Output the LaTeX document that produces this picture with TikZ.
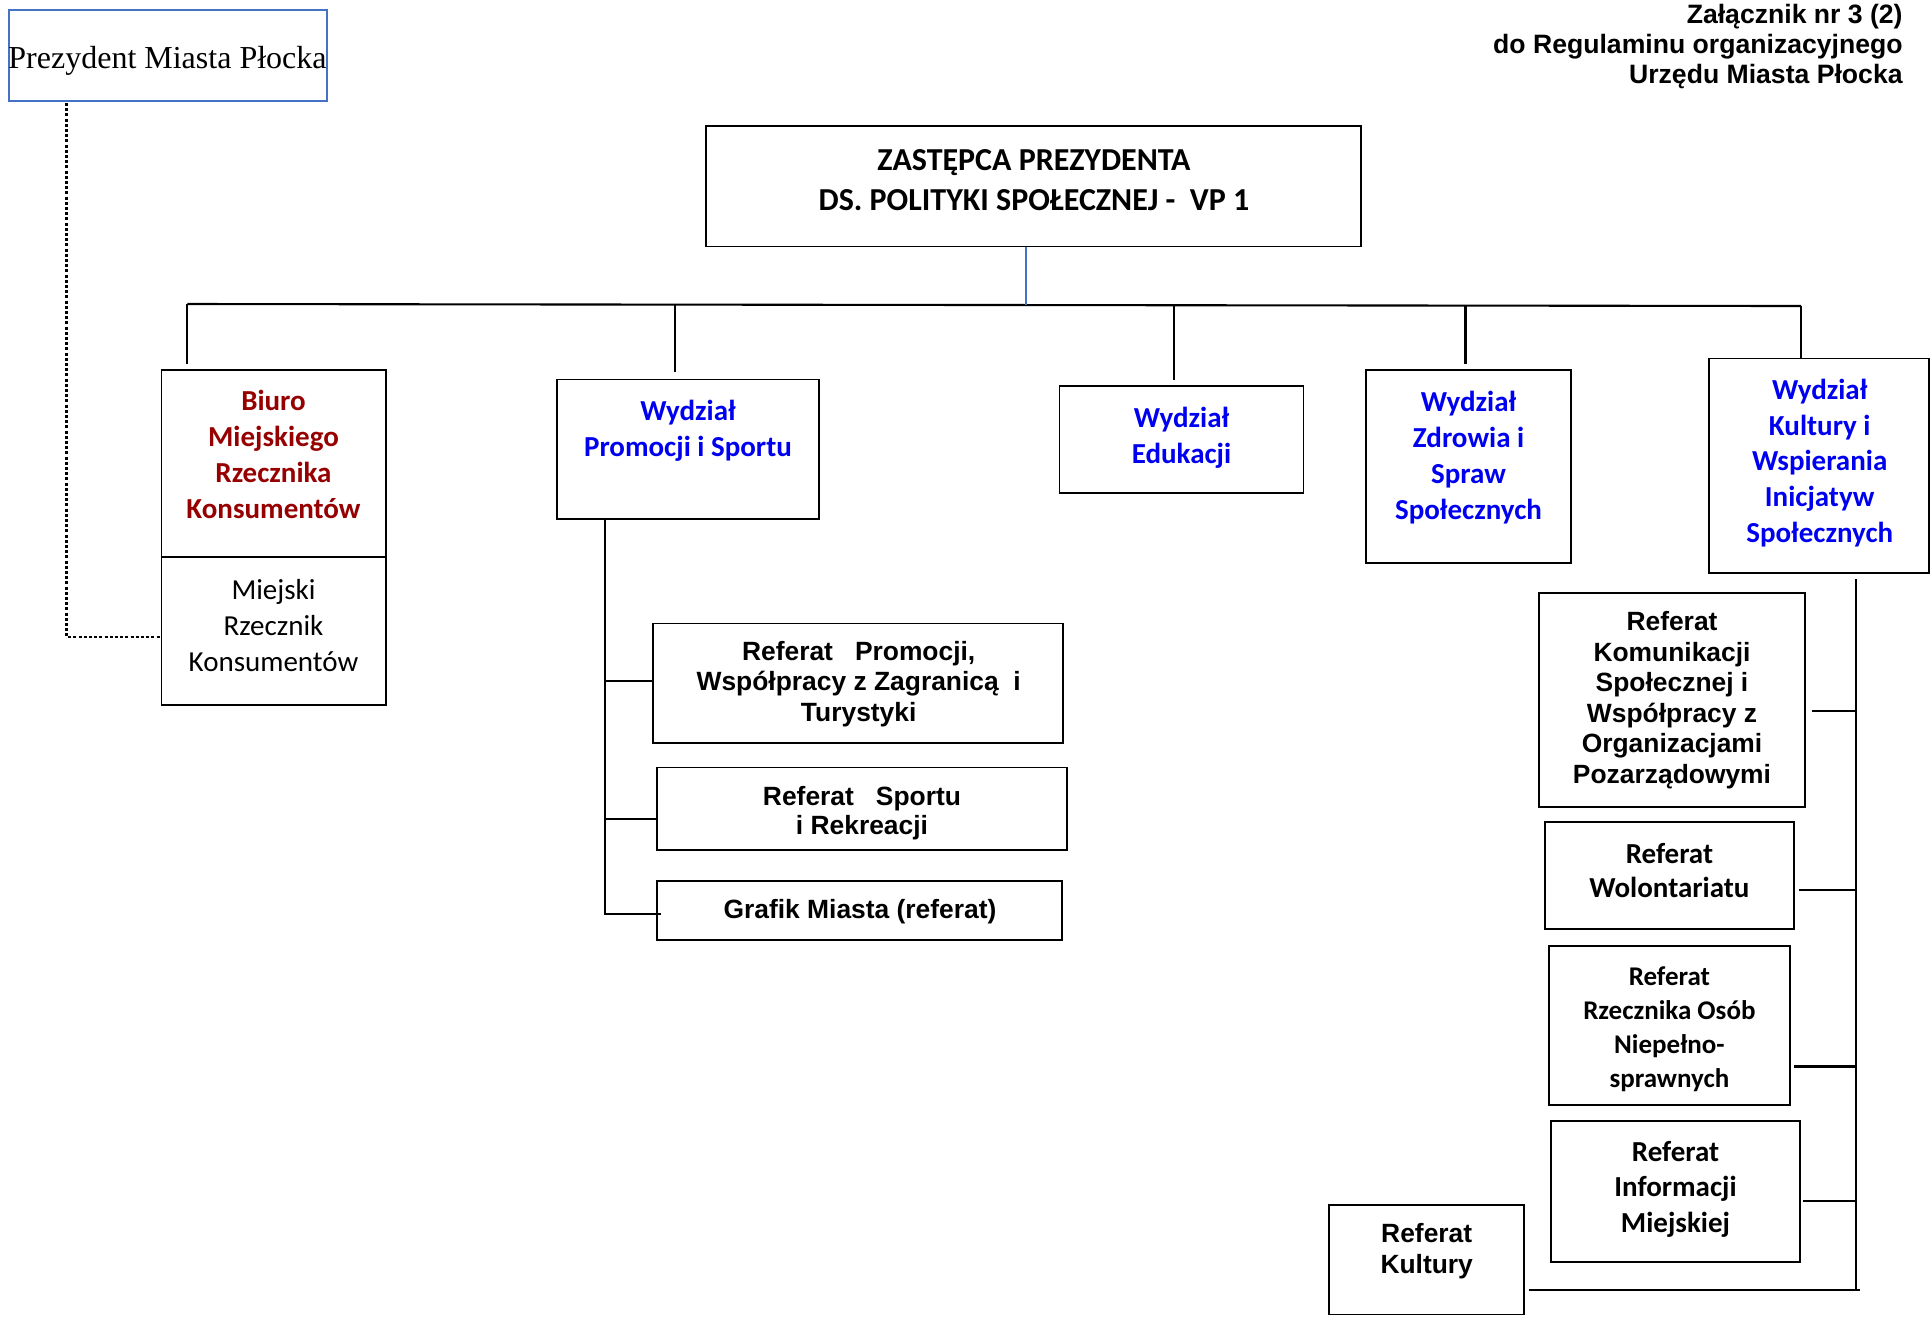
\documentclass[tikz,border=0pt]{standalone}
\usepackage{fontspec}
\setmainfont{Liberation Serif}
\newfontfamily\fcal{Carlito}
\newfontfamily\farial{Liberation Sans}
\newfontfamily\fserif{Liberation Serif}
\usetikzlibrary{fit,calc}
\definecolor{dred}{RGB}{150,0,0}
\definecolor{tblue}{RGB}{0,0,240}
\definecolor{bblue}{RGB}{68,114,196}
\begin{document}
\begin{tikzpicture}[x=0.5pt,y=-0.5pt,
  box/.style={draw=black, line width=0.9pt, inner sep=0pt, fit={#1}},
  conn/.style={draw=black, line width=1.05pt},
  bconn/.style={draw=bblue, line width=0.9pt},
  dotline/.style={draw=black, line width=1.05pt, dash pattern=on 1.5pt off 1.1pt},
  cal/.style={font=\fcal\bfseries\fontsize{14.5pt}{18pt}\selectfont, align=center, inner sep=0pt},
  calreg/.style={font=\fcal\fontsize{14.5pt}{18pt}\selectfont, align=center, inner sep=0pt},
  ari/.style={font=\farial\bfseries\fontsize{13.2pt}{15.4pt}\selectfont, align=center, inner sep=0pt},
  serif/.style={font=\fserif\fontsize{16pt}{18pt}\selectfont, inner sep=0pt},
  hdrtxt/.style={font=\farial\bfseries\fontsize{13.3pt}{15pt}\selectfont, align=right, inner sep=0pt}
]
\useasboundingbox (0,0) rectangle (1932,1319);

% boxes
\node[box={(8.6,9.9) (326.5,101)}, draw=bblue, line width=1pt] (prez) {};
\node[box={(706,125.7) (1361,246.4)}] (vp) {};
\node[box={(161.4,369.6) (385.6,557)}] (biuro) {};
\node[box={(161.4,557) (385.6,704.7)}] (rzk) {};
\node[box={(557,379.5) (819,518.7)}] (promo) {};
\node[box={(1059.5,385.6) (1303.5,492.8)}] (eduk) {};
\node[box={(1366,369.6) (1571,563)}] (zdrow) {};
\node[box={(1709,358.5) (1929,573)}] (kult) {};
\node[box={(653,623.4) (1063,743)}] (refprom) {};
\node[box={(656.7,767.5) (1067,850)}] (refsport) {};
\node[box={(656.7,881) (1062,940)}] (grafik) {};
\node[box={(1538.8,592.6) (1805,807)}] (komun) {};
\node[box={(1545,821.7) (1794,929)}] (wolon) {};
\node[box={(1548.6,946) (1790,1105)}] (osob) {};
\node[box={(1551,1121) (1800,1261.6)}] (info) {};
\node[box={(1329,1205) (1524,1314.5)}] (refkult) {};

% texts
\node[serif] (prez-t) at (167.5,61) {Prezydent Miasta Płocka};
\node[hdrtxt, anchor=east] (title) at (1903,46.6) {Załącznik nr 3 (2)\\do Regulaminu organizacyjnego\\Urzędu Miasta Płocka};
\node[cal, font=\fcal\bfseries\fontsize{16pt}{19.7pt}\selectfont] (vp-t) at (1034,180) {ZASTĘPCA PREZYDENTA\\DS. POLITYKI SPOŁECZNEJ -\ \ VP 1};
\node[cal, text=dred] (biuro-t) at (273.5,454) {Biuro\\Miejskiego\\Rzecznika\\Konsumentów};
\node[calreg] (rzk-t) at (273.5,625.2) {Miejski\\Rzecznik\\Konsumentów};
\node[cal, text=tblue] (promo-t) at (688,431) {Wydział\\Promocji i Sportu};
\node[cal, text=tblue] (eduk-t) at (1181.5,438) {Wydział\\Edukacji};
\node[cal, text=tblue] (zdrow-t) at (1468.5,458) {Wydział\\Zdrowia i\\Spraw\\Społecznych};
\node[cal, text=tblue, font=\fcal\bfseries\fontsize{14.5pt}{17.9pt}\selectfont] (kult-t) at (1819.7,463) {Wydział\\Kultury i\\Wspierania\\Inicjatyw\\Społecznych};
\node[ari] (refprom-t) at (858.7,684) {Referat\ \ \ Promocji,\\Współpracy z Zagranicą\ \ i\\Turystyki};
\node[ari, font=\farial\bfseries\fontsize{13.2pt}{14.8pt}\selectfont] (refsport-t) at (862,813) {Referat\ \ \ Sportu\\i Rekreacji};
\node[ari] (grafik-t) at (860,912) {Grafik Miasta (referat)};
\node[ari, font=\farial\bfseries\fontsize{13.2pt}{15.25pt}\selectfont] (komun-t) at (1672,700) {Referat\\Komunikacji\\Społecznej i\\Współpracy z\\Organizacjami\\Pozarządowymi};
\node[cal, font=\fcal\bfseries\fontsize{14.5pt}{17.25pt}\selectfont] (wolon-t) at (1669.4,870.5) {Referat\\Wolontariatu};
\node[cal, font=\fcal\bfseries\fontsize{13.5pt}{17pt}\selectfont] (osob-t) at (1669.4,1029.5) {Referat\\Rzecznika Osób\\Niepełno-\\sprawnych};
\node[cal, font=\fcal\bfseries\fontsize{14.5pt}{17.8pt}\selectfont] (info-t) at (1675.5,1189) {Referat\\Informacji\\Miejskiej};
\node[ari] (refkult-t) at (1426.7,1251) {Referat\\Kultury};

% top-level connectors
\coordinate (hl) at (187.3,304);
\coordinate (hr) at (1801,306);
\coordinate (hp) at (675,304.9);
\coordinate (he) at (1174,305.5);
\coordinate (hz) at (1465.5,305.7);
\coordinate (hv) at (1026,305);
\draw[conn] (hl) -- (hr);
\draw[conn] (hl) -- ([yshift=2.3pt]biuro.north -| hl);
\draw[conn] (hp) -- ([yshift=3.5pt]promo.north -| hp);
\draw[conn] (he) -- ([yshift=2.3pt]eduk.north -| he);
\draw[conn] (hz) -- ([yshift=2.4pt]zdrow.north -| hz);
\draw[conn] (hr) -- (kult.north -| hr);
\draw[bconn] (vp.south -| hv) -- (hv);

% dotted link
\coordinate (pd) at (66.5,103);
\draw[dotline] (pd) |- ([yshift=-3pt]rzk.west);

% promocji subtree
\coordinate (pv) at (605,914);
\draw[conn] (promo.south -| pv) -- (pv) -- ([xshift=2.5pt]grafik.west |- pv);
\draw[conn] ([yshift=1pt]refprom.west -| pv) -- ([yshift=1pt]refprom.west);
\draw[conn] ([yshift=-5.1pt]refsport.west -| pv) -- ([yshift=-5.1pt]refsport.west);

% kultury subtree
\coordinate (kt) at (1856,579);
\coordinate (kb) at (1856,1290);
\draw[conn] (kt) -- (kb);
\draw[conn] ([xshift=1.8pt]refkult.east |- kb) -- ([xshift=2pt]kb);
\draw[conn] ([xshift=3pt,yshift=-5.6pt]komun.east) -- ([yshift=-5.6pt]komun.east -| kt);
\draw[conn] ([xshift=2pt,yshift=-7.3pt]wolon.east) -- ([yshift=-7.3pt]wolon.east -| kt);
\draw[conn] ([xshift=1.5pt,yshift=-20.5pt]osob.east) -- ([yshift=-20.5pt]osob.east -| kt);
\draw[conn] ([xshift=1pt,yshift=-4.9pt]info.east) -- ([yshift=-4.9pt]info.east -| kt);
\end{tikzpicture}
\end{document}
